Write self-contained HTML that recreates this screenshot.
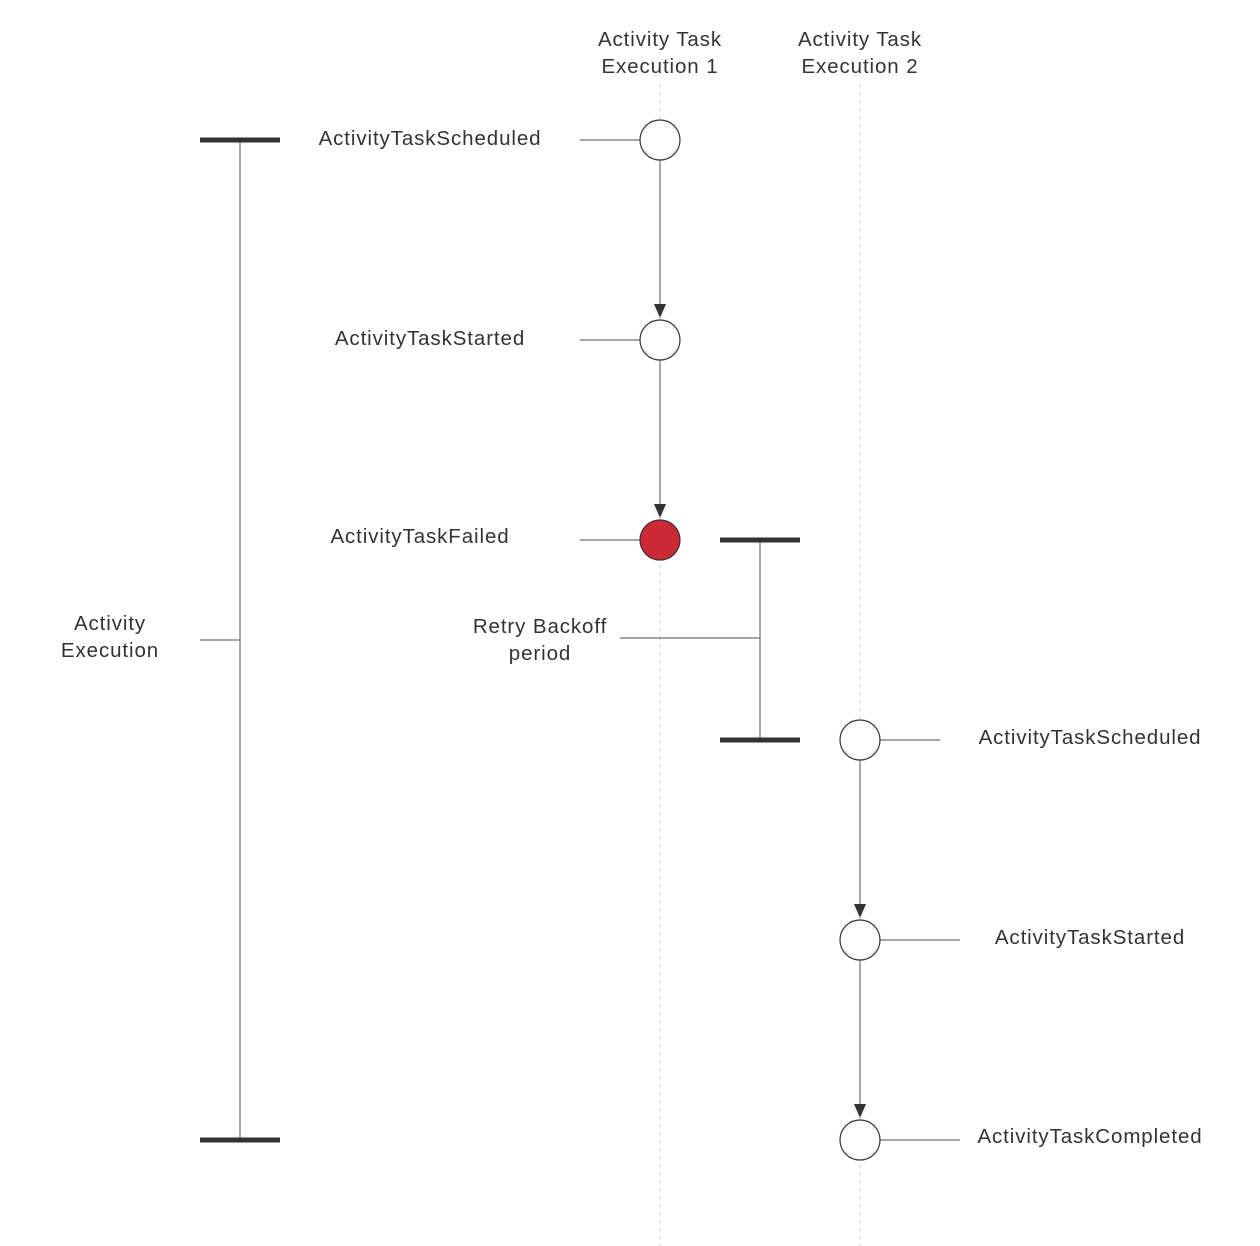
<!DOCTYPE html>
<html><head><meta charset="utf-8"><style>
html,body{margin:0;padding:0;background:#fff;}
svg{display:block;}
text{font-family:"Liberation Sans",Arial,sans-serif;font-size:20.5px;fill:#333;letter-spacing:0.9px;}
</style></head><body>
<svg width="1260" height="1246" viewBox="0 0 1260 1246">
<defs>
<marker id="b" viewBox="0 0 12 14" markerWidth="12" markerHeight="14" refX="14" refY="6" orient="auto" markerUnits="userSpaceOnUse"><path d="M0,0 L14,6 L0,12 z" fill="#333"/></marker></defs>
<g stroke="#ccc" stroke-width="1" stroke-dasharray="4,4">
<line x1="660" y1="84" x2="660" y2="1246"/><line x1="860" y1="84" x2="860" y2="1246"/></g>
<g stroke="#888" stroke-width="1.5" fill="none">
<line x1="240" y1="140" x2="240" y2="1140"/><line x1="200" y1="640" x2="240" y2="640"/>
<line x1="760" y1="540" x2="760" y2="740"/><line x1="620" y1="638" x2="760" y2="638"/>
<line x1="580" y1="140" x2="640" y2="140"/><line x1="580" y1="340" x2="640" y2="340"/><line x1="580" y1="540" x2="640" y2="540"/>
<line x1="880" y1="740" x2="940" y2="740"/><line x1="880" y1="940" x2="960" y2="940"/><line x1="880" y1="1140" x2="960" y2="1140"/>
<line x1="660" y1="160" x2="660" y2="318" marker-end="url(#b)"/>
<line x1="660" y1="360" x2="660" y2="518" marker-end="url(#b)"/>
<line x1="860" y1="760" x2="860" y2="918" marker-end="url(#b)"/>
<line x1="860" y1="960" x2="860" y2="1118" marker-end="url(#b)"/>
</g>
<g stroke="#333" stroke-width="5">
<line x1="200" y1="140" x2="280" y2="140"/><line x1="200" y1="1140" x2="280" y2="1140"/>
<line x1="720" y1="540" x2="800" y2="540"/><line x1="720" y1="740" x2="800" y2="740"/></g>
<g stroke="#333" stroke-width="1.2" fill="#fff">
<circle cx="660" cy="140" r="20"/><circle cx="660" cy="340" r="20"/>
<circle cx="660" cy="540" r="20" fill="#cc2936"/>
<circle cx="860" cy="740" r="20"/><circle cx="860" cy="940" r="20"/><circle cx="860" cy="1140" r="20"/></g>
<g text-anchor="middle">
<text x="660" y="46">Activity Task</text><text x="660" y="73">Execution 1</text>
<text x="860" y="46">Activity Task</text><text x="860" y="73">Execution 2</text>
<text x="430" y="145">ActivityTaskScheduled</text>
<text x="430" y="345">ActivityTaskStarted</text>
<text x="420" y="543">ActivityTaskFailed</text>
<text x="110" y="630">Activity</text><text x="110" y="657">Execution</text>
<text x="540" y="633">Retry Backoff</text><text x="540" y="660">period</text>
<text x="1090" y="744">ActivityTaskScheduled</text>
<text x="1090" y="944">ActivityTaskStarted</text>
<text x="1090" y="1143">ActivityTaskCompleted</text>
</g>
</svg>
</body></html>
